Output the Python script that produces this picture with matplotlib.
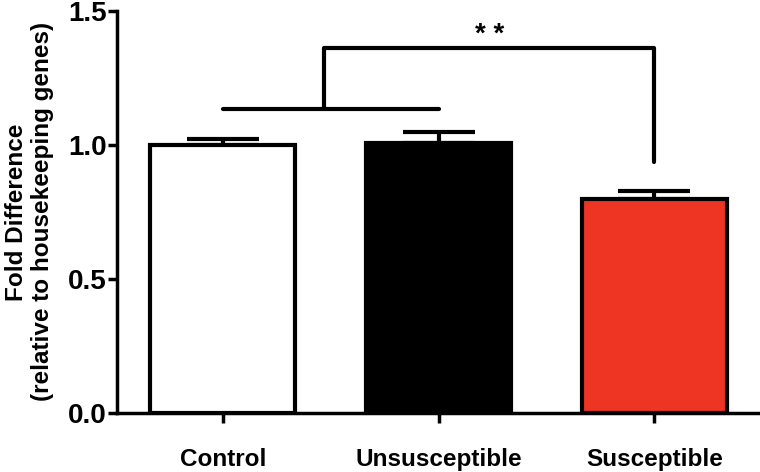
import matplotlib
matplotlib.use("Agg")
import matplotlib.pyplot as plt
import numpy as np

categories = ["Control", "Unsusceptible", "Susceptible"]
means = [1.00, 1.007, 0.80]
errors = [0.022, 0.041, 0.028]
colors = ["#FFFFFF", "#000000", "#EE3524"]
yticks = [0.0, 0.5, 1.0, 1.5]
ytick_labels = ["0.0", "0.5", "1.0", "1.5"]
bracket_low = 1.134
bracket_high = 1.362
bracket_drop = 0.937
sig_label = "* *"

plt.rcParams['font.family'] = ['Liberation Sans', 'DejaVu Sans']
plt.rcParams['font.weight'] = 'bold'

fig = plt.figure(figsize=(7.6, 4.72), dpi=100)
ax = fig.add_axes([0.154, 0.125, 0.846, 0.852])

x = np.arange(len(categories))
lw = 3.0
ax.bar(x, means, width=0.67, color=colors, edgecolor="black", linewidth=lw, zorder=3)
ax.errorbar(x, means, yerr=[np.zeros(len(errors)), errors], fmt="none",
            ecolor="black", elinewidth=lw, capsize=26, capthick=lw, zorder=2)

# significance bracket
kw = dict(color="black", linewidth=lw, solid_capstyle="round", zorder=4)
ax.plot([x[0], x[1]], [bracket_low, bracket_low], **kw)
mid = (x[0] + x[1]) / 2 - 0.03
ax.plot([mid, mid, x[2], x[2]], [bracket_low, bracket_high, bracket_high, bracket_drop], **kw)
ax.text((mid + x[2]) / 2, bracket_high - 0.002, sig_label, ha="center", va="bottom",
        fontsize=20, fontweight="bold")

ax.set_xlim(-0.49, 2.49)
ax.set_ylim(0, 1.5)
ax.set_yticks(yticks)
ax.set_yticklabels(ytick_labels)
ax.set_xticks(x)
ax.set_xticklabels(categories)
for s in ["top", "right"]:
    ax.spines[s].set_visible(False)
for s in ["left", "bottom"]:
    ax.spines[s].set_linewidth(2.5)
ax.tick_params(axis="y", length=6.5, width=2.5, labelsize=20, pad=1)
ax.tick_params(axis="x", length=7, width=2.5, labelsize=17.5, pad=18)
for lab in ax.get_xticklabels() + ax.get_yticklabels():
    lab.set_fontweight("bold")
ax.set_ylabel("Fold Difference\n(relative to housekeeping genes)", fontsize=17.5,
              fontweight="bold", linespacing=1.15, labelpad=10)

fig.savefig("out.png", dpi=100)
